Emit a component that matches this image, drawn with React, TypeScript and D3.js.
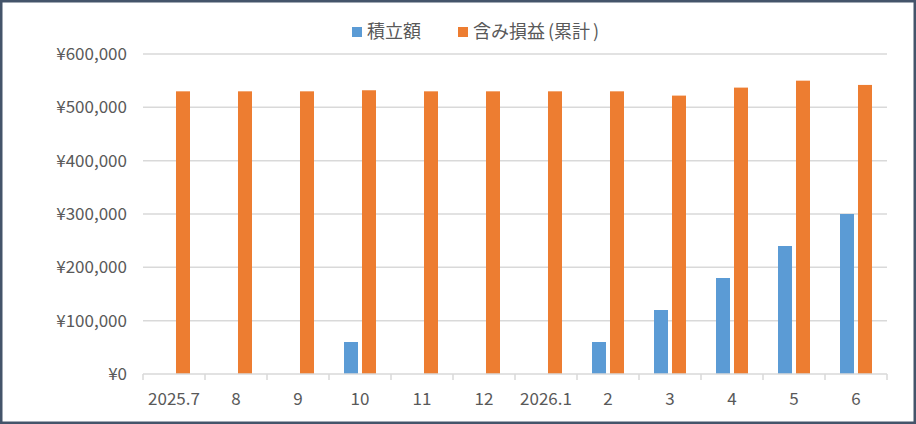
import { useEffect, useRef } from "react";
import * as d3 from "d3";

const CATEGORIES = ["2025.7", "8", "9", "10", "11", "12", "2026.1", "2", "3", "4", "5", "6"];
const SERIES = ["積立額", "含み損益(累計)"];
const CONTRIB = [0, 0, 0, 60000, 0, 0, 0, 60000, 120000, 180000, 240000, 300000];
const GAIN = [530000, 530000, 530000, 532000, 530000, 530000, 530000, 530000, 522000, 537000, 550000, 542000];
const Y_TICKS = [0, 100000, 200000, 300000, 400000, 500000, 600000];
const COLORS = ["#5B9BD5", "#ED7D31"];

const W = 916;
const H = 424;
const FONT = "'Noto Sans CJK JP', 'Noto Sans', sans-serif";

export default function App() {
  const svgRef = useRef<SVGSVGElement>(null);

  useEffect(() => {
    if (!svgRef.current) return;
    const svg = d3.select(svgRef.current);
    svg.selectAll("*").remove();

    const margin = { top: 54, right: 29, bottom: 50, left: 143 };

    svg.append("rect").attr("width", W).attr("height", H).attr("fill", "#fff");
    svg
      .append("rect")
      .attr("x", 1.25)
      .attr("y", 1.25)
      .attr("width", W - 2.5)
      .attr("height", H - 2.5)
      .attr("fill", "none")
      .attr("stroke", "#44546A")
      .attr("stroke-width", 2.5);

    const x0 = d3.scaleBand().domain(CATEGORIES).range([margin.left, W - margin.right]).padding(0);
    const x1 = d3.scaleBand().domain(SERIES).range([15, 47]).paddingInner(0.222);
    const y = d3.scaleLinear().domain([0, 600000]).range([H - margin.bottom, margin.top]);

    // gridlines
    svg
      .append("g")
      .selectAll("line")
      .data(Y_TICKS.slice(1))
      .enter()
      .append("line")
      .attr("x1", margin.left)
      .attr("x2", W - margin.right)
      .attr("y1", (d) => y(d))
      .attr("y2", (d) => y(d))
      .attr("stroke", "#D9D9D9")
      .attr("stroke-width", 1.5);

    // y labels
    const fmt = (v: number) => "¥" + d3.format(",")(v);
    svg
      .append("g")
      .selectAll("text")
      .data(Y_TICKS)
      .enter()
      .append("text")
      .attr("x", 127)
      .attr("y", (d) => y(d))
      .attr("dy", "0.35em")
      .attr("text-anchor", "end")
      .attr("fill", "#595959")
      .style("font-family", FONT)
      .style("font-size", "17px")
      .text(fmt);

    // bars
    const rows = CATEGORIES.map((c, i) => ({ c, vals: [CONTRIB[i], GAIN[i]] }));
    const groups = svg
      .append("g")
      .selectAll("g")
      .data(rows)
      .enter()
      .append("g")
      .attr("transform", (d) => `translate(${x0(d.c)},0)`);
    groups
      .selectAll("rect")
      .data((d) => d.vals.map((v, k) => ({ s: SERIES[k], v, k })))
      .enter()
      .append("rect")
      .attr("x", (d) => x1(d.s) ?? 0)
      .attr("width", x1.bandwidth())
      .attr("y", (d) => y(d.v))
      .attr("height", (d) => y(0) - y(d.v))
      .attr("fill", (d) => COLORS[d.k]);

    // x axis
    const base = y(0);
    svg
      .append("line")
      .attr("x1", margin.left)
      .attr("x2", W - margin.right)
      .attr("y1", base)
      .attr("y2", base)
      .attr("stroke", "#D9D9D9")
      .attr("stroke-width", 1.5);
    const edges = CATEGORIES.map((c) => x0(c) ?? 0).concat([W - margin.right]);
    svg
      .append("g")
      .selectAll("line")
      .data(edges)
      .enter()
      .append("line")
      .attr("x1", (d) => d)
      .attr("x2", (d) => d)
      .attr("y1", base)
      .attr("y2", base + 6)
      .attr("stroke", "#D9D9D9")
      .attr("stroke-width", 1.5);
    svg
      .append("g")
      .selectAll("text")
      .data(CATEGORIES)
      .enter()
      .append("text")
      .attr("x", (d) => (x0(d) ?? 0) + x0.bandwidth() / 2)
      .attr("y", 399)
      .attr("dy", "0.35em")
      .attr("text-anchor", "middle")
      .attr("fill", "#595959")
      .style("font-family", FONT)
      .style("font-size", "17px")
      .text((d) => d);

    // legend
    const legendX = [352, 458];
    const lg = svg
      .append("g")
      .selectAll("g")
      .data(SERIES)
      .enter()
      .append("g")
      .attr("transform", (_d, i) => `translate(${legendX[i]},27)`);
    lg.append("rect")
      .attr("width", 10)
      .attr("height", 10)
      .attr("fill", (_d, i) => COLORS[i]);
    const lt = lg
      .append("text")
      .attr("x", 15)
      .attr("y", 5)
      .attr("dy", "0.35em")
      .attr("fill", "#595959")
      .style("font-family", FONT)
      .style("font-size", "18px");
    // split on the parentheses so they get a little extra room, as in the original
    lt.selectAll("tspan")
      .data((d) => d.split(/([()])/).filter((p) => p.length > 0))
      .enter()
      .append("tspan")
      .attr("dx", (p) => (p === "(" || p === ")" ? 3 : 0))
      .text((p) => p);
  }, []);

  return (
    <div style={{ position: "fixed", left: 0, top: 0 }}>
      <svg ref={svgRef} width={W} height={H} style={{ display: "block" }} />
    </div>
  );
}
